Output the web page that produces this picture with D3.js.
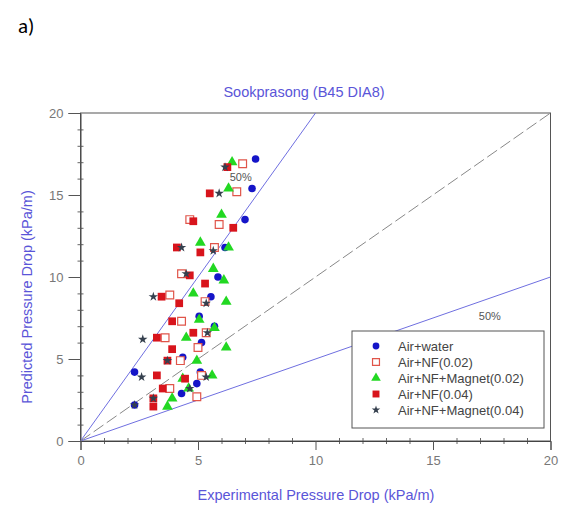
<!DOCTYPE html>
<html>
<head>
<meta charset="utf-8">
<script src="https://cdn.jsdelivr.net/npm/d3@7"></script>
<style>
  body { margin: 0; background: #fff; }
  text { font-family: "Liberation Sans", Arial, sans-serif; }
</style>
</head>
<body>
<script>
// data: [experimental, predicted] in kPa/m
const airWater = [[7.45,17.2],[7.3,15.4],[7.0,13.5],[6.15,11.8],[5.85,10.0],[5.55,8.8],[5.05,7.6],[5.7,7.0],
  [5.15,6.0],[2.3,4.2],[4.35,5.1],[4.95,3.5],[4.3,2.9],[5.1,4.2],[2.3,2.2]];
const airNF002 = [[6.9,16.9],[6.65,15.2],[4.65,13.5],[5.9,13.2],[5.7,11.8],[4.3,10.2],[3.8,8.9],[5.3,8.5],
  [4.3,7.3],[5.35,6.6],[3.6,6.3],[4.25,4.9],[5.0,5.7],[3.8,3.2],[4.95,2.7],[5.15,4.0]];
const airNFMag002 = [[6.45,17.0],[6.3,15.4],[6.0,13.8],[5.1,12.1],[6.3,11.8],[5.65,10.5],[6.1,9.8],[4.8,9.0],
  [6.2,8.5],[5.05,7.4],[4.5,6.3],[5.7,6.9],[4.95,4.9],[6.2,5.7],[5.6,4.0],[4.35,3.8],[3.9,2.6],[3.7,2.1],[4.6,3.2]];
const airNF004 = [[6.25,16.7],[5.5,15.1],[4.8,13.4],[6.5,13.0],[4.1,11.8],[5.1,11.5],[4.65,10.1],[5.3,9.6],
  [3.45,8.8],[4.2,8.4],[3.9,7.3],[4.8,6.6],[3.25,6.3],[3.9,5.6],[3.25,4.0],[4.45,3.8],[3.5,3.2],[3.1,2.6],[3.1,2.1],[3.7,4.9]];
const airNFMag004 = [[5.9,15.1],[6.15,16.7],[5.65,11.6],[4.3,11.8],[4.5,10.2],[3.1,8.8],[5.35,8.4],[2.65,6.2],
  [5.4,6.6],[2.6,3.9],[2.3,2.2],[5.35,3.9],[4.65,3.2],[3.1,2.6],[3.7,4.9]];

const seriesNames = ["Air+water", "Air+NF(0.02)", "Air+NF+Magnet(0.02)", "Air+NF(0.04)", "Air+NF+Magnet(0.04)"];
const xTicks = [0, 5, 10, 15, 20];
const yTicks = [0, 5, 10, 15, 20];

const W = 562, H = 506;
const margin = {top: 113, right: 11.5, bottom: 65, left: 80.5};
const width = W - margin.left - margin.right;
const height = H - margin.top - margin.bottom;

const x = d3.scaleLinear().domain([0, 20]).range([0, width]);
const y = d3.scaleLinear().domain([0, 20]).range([height, 0]);

const svg = d3.select("body").append("svg")
    .attr("width", W).attr("height", H);

svg.append("text").attr("x", 18).attr("y", 33)
    .attr("font-size", 21).style("font-family", "Carlito, 'Liberation Sans', sans-serif")
    .text("a)");

svg.append("text").attr("x", 304).attr("y", 97)
    .attr("text-anchor", "middle").attr("font-size", 14.5).attr("fill", "#5a55d8")
    .text("Sookprasong (B45 DIA8)");

const g = svg.append("g").attr("transform", `translate(${margin.left},${margin.top})`);

// frame
g.append("rect").attr("width", width).attr("height", height)
    .attr("fill", "none").attr("stroke", "#555").attr("stroke-width", 1);

// minor ticks
const minor = d3.range(1, 20).filter(v => v % 5 !== 0);
g.append("g").attr("transform", `translate(0,${height})`)
    .call(d3.axisBottom(x).tickValues(minor).tickSize(3).tickFormat(""))
    .call(a => a.select(".domain").remove())
    .call(a => a.selectAll("line").attr("stroke", "#666").attr("y1", -3));
g.append("g")
    .call(d3.axisLeft(y).tickValues(minor).tickSize(3).tickFormat(""))
    .call(a => a.select(".domain").remove())
    .call(a => a.selectAll("line").attr("stroke", "#666").attr("x1", 3));

// major ticks
g.append("g").attr("transform", `translate(0,${height})`)
    .call(d3.axisBottom(x).tickValues(xTicks).tickSize(9).tickPadding(6))
    .call(a => a.select(".domain").attr("stroke", "#444"))
    .call(a => a.selectAll("line").attr("stroke", "#555"))
    .call(a => a.selectAll("text").attr("fill", "#777").attr("font-size", 13));
g.append("g")
    .call(d3.axisLeft(y).tickValues(yTicks).tickSize(12).tickPadding(5))
    .call(a => a.select(".domain").attr("stroke", "#444"))
    .call(a => a.selectAll("line").attr("stroke", "#555"))
    .call(a => a.selectAll("text").attr("fill", "#777").attr("font-size", 13));

// axis titles
svg.append("text").attr("x", 316).attr("y", 500)
    .attr("text-anchor", "middle").attr("font-size", 14.5).attr("fill", "#5a55d8")
    .text("Experimental Pressure Drop (kPa/m)");
svg.append("text").attr("transform", "translate(32,297) rotate(-90)")
    .attr("text-anchor", "middle").attr("font-size", 14.5).attr("fill", "#5a55d8")
    .text("Predicted Pressure Drop (kPa/m)");

// reference lines
g.append("clipPath").attr("id", "clip")
    .append("rect").attr("width", width).attr("height", height);
const lines = g.append("g").attr("clip-path", "url(#clip)");
lines.append("line").attr("x1", x(0)).attr("y1", y(0)).attr("x2", x(10)).attr("y2", y(20))
    .attr("stroke", "#6f6fe0").attr("stroke-width", 1);
lines.append("line").attr("x1", x(0)).attr("y1", y(0)).attr("x2", x(20)).attr("y2", y(10))
    .attr("stroke", "#6f6fe0").attr("stroke-width", 1);
lines.append("line").attr("x1", x(0)).attr("y1", y(0)).attr("x2", x(20)).attr("y2", y(20))
    .attr("stroke", "#888").attr("stroke-width", 1).attr("stroke-dasharray", "12,4");

g.append("text").attr("x", x(6.35)).attr("y", y(15.85)).attr("font-size", 11).attr("fill", "#555").text("50%");
g.append("text").attr("x", x(16.95)).attr("y", y(7.35)).attr("font-size", 11).attr("fill", "#555").text("50%");

// markers
const styles = [
  {data: airWater,    sym: d3.symbolCircle,   size: 45, fill: "#1515c8", stroke: "none"},
  {data: airNF002,    sym: d3.symbolSquare,   size: 60, fill: "#fff",    stroke: "#e0554a"},
  {data: airNFMag002, sym: d3.symbolTriangle, size: 50, fill: "#22d822", stroke: "none"},
  {data: airNF004,    sym: d3.symbolSquare,   size: 60, fill: "#d8141c", stroke: "none"},
  {data: airNFMag004, sym: d3.symbolStar,     size: 28, fill: "#35404e", stroke: "none"}
];

styles.forEach(s => {
  g.append("g").selectAll("path")
    .data(s.data)
    .enter().append("path")
      .attr("transform", d => `translate(${x(d[0])},${y(d[1])})`)
      .attr("d", d3.symbol(s.sym, s.size))
      .attr("fill", s.fill)
      .attr("stroke", s.stroke)
      .attr("stroke-width", 1.2);
});

// legend
const lg = svg.append("g").attr("transform", "translate(352,331)");
lg.append("rect").attr("width", 192).attr("height", 97)
    .attr("fill", "#fff").attr("stroke", "#555");
styles.forEach((s, i) => {
  const yy = 15 + i * 16;
  lg.append("path").attr("transform", `translate(24,${yy})`)
    .attr("d", d3.symbol(s.sym, s.size * 0.8))
    .attr("fill", s.fill).attr("stroke", s.stroke).attr("stroke-width", 1.2);
  lg.append("text").attr("x", 46).attr("y", yy + 4.5).attr("font-size", 13).attr("fill", "#444")
    .text(seriesNames[i]);
});
</script>
</body>
</html>
